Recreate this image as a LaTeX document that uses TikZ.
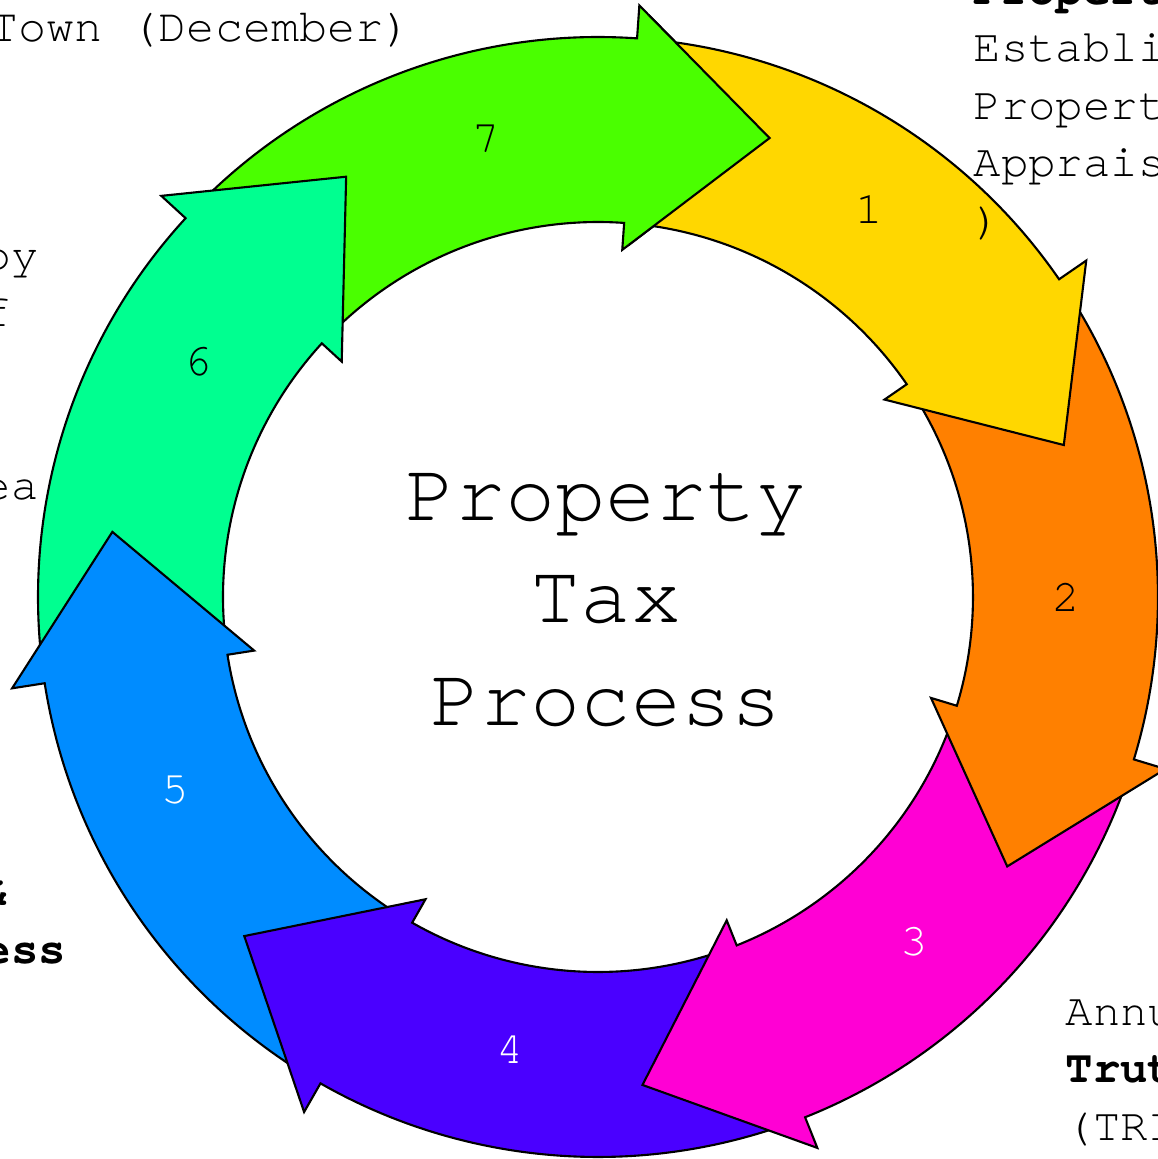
\documentclass[tikz,border=0pt]{standalone}
\usepackage{fontspec}
\setmainfont{TeX Gyre Cursor}
\definecolor{stepgold}{HTML}{FFD700}
\definecolor{steporange}{HTML}{FF8000}
\definecolor{stepmagenta}{HTML}{FF00D4}
\definecolor{stepviolet}{HTML}{4A00FF}
\definecolor{stepazure}{HTML}{008CFF}
\definecolor{stepspring}{HTML}{00FF90}
\definecolor{stepgreen}{HTML}{4AFF00}

\tikzset{
  arrowpiece/.style={draw=black, line width=0.6pt, line join=miter},
  steplabel/.style={inner sep=0pt, font=\fontsize{13}{16.35}\selectfont},
  sidetext/.style={inner sep=0pt, align=left, anchor=base west, font=\fontsize{13}{16.35}\selectfont},
}

% one curved arrow of the ring: #1 = angle of the head base, #2 = colour
\newcommand{\cyclearrow}[2]{%
  \draw[arrowpiece, fill=#2] ({#1+49.43}:5.6) arc[start angle={#1+49.43}, end angle=#1, radius=5.6]
    -- (#1:5.93) -- ({#1-16.5}:4.9) -- (#1:3.48) -- (#1:3.75)
    arc[start angle=#1, end angle={#1+49.43}, radius=3.75] -- cycle;}

\begin{document}
\begin{tikzpicture}
        \useasboundingbox (-5.98, -5.62) rectangle (5.60, 5.97);
        \cyclearrow{86}{stepgreen}
        \cyclearrow{137.43}{stepspring}
        \cyclearrow{188.86}{stepazure}
        \cyclearrow{240.29}{stepviolet}
        \cyclearrow{291.71}{stepmagenta}
        \cyclearrow{343.14}{steporange}
        \cyclearrow{34.57}{stepgold}
        % head of 7 lies over the tail of 1
        \begin{scope}
          \clip (0, 0) -- (85:7) -- (60:7) -- cycle;
          \cyclearrow{86}{stepgreen}
        \end{scope}
        \node[steplabel] (1) at (2.71, 3.87) {1};
        \node[steplabel] (2) at (4.68, 0) {2};
        \node[steplabel, text=white] (3) at (3.16, -3.45) {3};
        \node[steplabel, text=white] (4) at (-0.88, -4.53) {4};
        \node[steplabel, text=white] (5) at (-4.23, -1.93) {5};
        \node[steplabel] (6) at (-4.00, 2.35) {6};
        \node[steplabel] (7) at (-1.12, 4.58) {7};
        \node[inner sep=0pt, align=center, font=\fontsize{23.8}{29.1}\selectfont] (title) at (0.08, -0.03) {Property\\Tax\\Process};
        \node[sidetext, font=\fontsize{13.3}{16.35}\selectfont] (town) at (-6.08, 5.56) {Town (December)};
        \node[sidetext] (appraise) at (3.75, 3.63) {\textbf{Propert}\\Establi\\Propert\\Apprais\\)};
        \node[sidetext] (bill) at (-6.15, 0.98) {py\\f\\{}\\{}\\ea};
        \node[sidetext, font=\fontsize{13}{16.35}\selectfont\bfseries] (appeal) at (-6.15, -3.66) {\&\\ess};
        \node[sidetext] (trim) at (4.67, -5.43) {Annu\\\textbf{Trut}\\(TRI};
     \end{tikzpicture}
\end{document}
